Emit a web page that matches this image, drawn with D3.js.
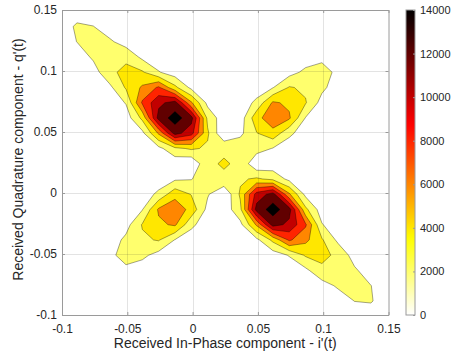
<!DOCTYPE html>
<html><head><meta charset="utf-8">
<script src="https://cdn.jsdelivr.net/npm/d3@7"></script>
<style>
body{margin:0;background:#fff}
text{font-family:"Liberation Sans",Arial,Helvetica,sans-serif;fill:#262626}
</style>
</head><body>
<svg id="chart" width="452" height="356"></svg>
<script>
// grid coordinates (bin centres)
const xGrid = [-0.101,-0.0885,-0.076,-0.0635,-0.051,-0.0385,-0.026,-0.0135,-0.001,0.0115,0.024,0.0365,0.049,0.0615,0.074,0.0865,0.099,0.1115,0.124,0.1365,0.149];
const yGrid = [0.149,0.1365,0.124,0.1115,0.099,0.0865,0.074,0.0615,0.049,0.0365,0.024,0.0115,-0.001,-0.0135,-0.026,-0.0385,-0.051,-0.0635,-0.076,-0.0885,-0.101];
// estimated counts, one row per yGrid value (top row first)
const density = [
[1700,1520,731,280,52,0,0,0,0,0,0,0,0,0,0,0,0,0,0,0,0],
[1520,2150,2040,884,319,66,0,0,0,0,0,0,0,0,0,30,110,170,160,0,0],
[731,2040,2600,2320,1122,429,90,0,0,0,0,0,0,0,52,226,510,800,500,160,0],
[280,884,2320,3300,3500,1530,583,126,0,0,0,0,0,73,341,884,1640,1500,800,170,0],
[52,319,1122,3500,4600,4240,2142,935,220,0,0,0,112,572,1241,2480,2600,1640,510,110,0],
[0,66,429,1530,4240,6300,8300,4500,1474,292,0,148,770,1904,4160,3650,2480,884,226,30,0],
[0,0,90,583,2142,8300,11500,12800,6300,1430,200,682,2516,6300,5600,4160,1241,341,52,0,0],
[0,0,0,126,935,4500,12800,14900,12800,3500,770,900,5300,7400,6300,1904,572,73,0,0,0],
[0,0,0,0,220,1474,6300,12800,10800,4300,200,1540,3900,5300,2516,770,112,0,0,0,0],
[0,0,0,0,0,292,1430,3500,4300,3700,3660,3300,2880,1900,682,148,0,0,0,0,0],
[0,0,0,0,0,0,200,700,200,3660,4200,3660,300,700,200,0,0,0,0,0,0],
[0,0,0,0,0,148,682,1700,1900,3300,3660,3700,4300,3500,1430,292,0,0,0,0,0],
[0,0,0,0,112,770,2516,5300,3900,2200,250,4300,10800,12800,6300,1474,220,0,0,0,0],
[0,0,0,73,572,1904,6300,7400,5300,1394,715,3500,12800,14900,12800,4500,935,126,0,0,0],
[0,0,52,341,1241,4160,5600,6300,2516,682,200,1430,6300,12800,11500,8300,2142,583,90,0,0],
[0,30,226,884,2480,3650,4160,1904,770,148,0,292,1474,4500,8300,6500,4240,1530,429,66,0],
[0,110,510,1640,2600,2480,1241,572,112,0,0,0,220,935,2142,4240,4600,3500,1122,319,52],
[0,170,800,1500,1640,884,341,73,0,0,0,0,0,126,583,1530,3500,3300,2320,884,280],
[0,160,500,800,510,226,52,0,0,0,0,0,0,0,90,429,1122,2320,2600,2040,714],
[0,0,160,170,110,30,0,0,0,0,0,0,0,0,0,66,319,884,2040,2100,1360],
[0,0,0,0,0,0,0,0,0,0,0,0,0,0,0,0,52,280,714,1360,1300]
];
const levels = [2000,4000,6000,8000,10000,12000,14000];
const xTicks = [-0.1,-0.05,0,0.05,0.1,0.15];
const yTicks = [-0.1,-0.05,0,0.05,0.1,0.15];
const cbTicks = [0,2000,4000,6000,8000,10000,12000,14000];
const xLabel = "Received In-Phase component - i'(t)";
const yLabel = "Received Quadrature component - q'(t)";

const svg = d3.select("#chart");
const L = 62, R = 388.5, T = 10, B = 315;
const x = d3.scaleLinear().domain([-0.1,0.15]).range([L,R]);
const y = d3.scaleLinear().domain([-0.1,0.15]).range([B,T]);
const cmax = 14000;
function hotFlip(v){
  const s = 1 - v/cmax;
  const r = Math.min(1, s/0.375);
  const g = Math.max(0, Math.min(1,(s-0.375)/0.375));
  const b = Math.max(0, Math.min(1,(s-0.75)/0.25));
  return d3.rgb(r*255,g*255,b*255).formatHex();
}

svg.append("defs").append("clipPath").attr("id","clip")
  .append("rect").attr("x",L).attr("y",T).attr("width",R-L).attr("height",B-T);

// contours
const nx = xGrid.length, ny = yGrid.length;
const values = density.flat();
const ix = d3.scaleLinear().domain([0,nx-1]).range([xGrid[0],xGrid[nx-1]]);
const iy = d3.scaleLinear().domain([0,ny-1]).range([yGrid[0],yGrid[ny-1]]);
const proj = d3.geoTransform({point:function(px,py){ this.stream.point(x(ix(px-0.5)), y(iy(py-0.5))); }});
const path = d3.geoPath(proj);
const contours = d3.contours().size([nx,ny]).thresholds(levels)(values);

const g = svg.append("g").attr("clip-path","url(#clip)");
g.selectAll("path.c").data(contours).join("path")
  .attr("class","c")
  .attr("d",path)
  .attr("fill",d=>hotFlip(d.value))
  .attr("stroke","#000").attr("stroke-opacity",0.6).attr("stroke-width",0.6)
  .attr("stroke-linejoin","round");

// grid lines
const grid = svg.append("g").attr("stroke","#262626").attr("stroke-opacity",0.13).attr("stroke-width",1);
xTicks.slice(1,-1).forEach(v=>grid.append("line").attr("x1",Math.round(x(v))+0.5).attr("x2",Math.round(x(v))+0.5).attr("y1",T).attr("y2",B));
yTicks.slice(1,-1).forEach(v=>grid.append("line").attr("y1",Math.round(y(v))+0.5).attr("y2",Math.round(y(v))+0.5).attr("x1",L).attr("x2",R));

// axes
const fmt = d=>String(d);
const ax = svg.append("g").attr("transform",`translate(0,${B})`)
  .call(d3.axisBottom(x).tickValues(xTicks).tickFormat(fmt).tickSizeInner(-3).tickSizeOuter(0).tickPadding(9));
const ay = svg.append("g").attr("transform",`translate(${L},0)`)
  .call(d3.axisLeft(y).tickValues(yTicks).tickFormat(fmt).tickSizeInner(-3).tickSizeOuter(0).tickPadding(5));
const axT = svg.append("g").attr("transform",`translate(0,${T})`)
  .call(d3.axisTop(x).tickValues(xTicks).tickFormat("").tickSizeInner(-3).tickSizeOuter(0));
const ayR = svg.append("g").attr("transform",`translate(${R},0)`)
  .call(d3.axisRight(y).tickValues(yTicks).tickFormat("").tickSizeInner(-3).tickSizeOuter(0));
[ax,ay,axT,ayR].forEach(a=>{
  a.select(".domain").attr("stroke","#9a9a9a");
  a.selectAll(".tick line").attr("stroke","#9a9a9a");
  a.selectAll("text").attr("font-size",12).attr("fill","#262626").style("font-family",'"Liberation Sans",Arial,sans-serif');
});

svg.append("text").attr("x",(L+R)/2).attr("y",348).attr("text-anchor","middle")
  .attr("font-size",14).text(xLabel);
svg.append("text").attr("transform",`translate(23,${(T+B)/2 - 3}) rotate(-90)`).attr("text-anchor","middle")
  .attr("font-size",14).text(yLabel);

// colorbar
const cbX = 406, cbW = 9;
const cy = d3.scaleLinear().domain([0,cmax]).range([B,T]);
const grad = svg.select("defs").append("linearGradient").attr("id","cbg")
  .attr("x1",0).attr("y1",1).attr("x2",0).attr("y2",0);
d3.range(0,1.0001,0.02).forEach(t=>grad.append("stop").attr("offset",t).attr("stop-color",hotFlip(t*cmax)));
svg.append("rect").attr("x",cbX).attr("y",T).attr("width",cbW).attr("height",B-T)
  .attr("fill","url(#cbg)").attr("stroke","#9a9a9a").attr("stroke-width",1);
const cb = svg.append("g").attr("transform",`translate(${cbX+cbW},0)`)
  .call(d3.axisRight(cy).tickValues(cbTicks).tickFormat(fmt).tickSizeInner(-2).tickSizeOuter(0).tickPadding(5));
cb.select(".domain").remove();
cb.selectAll(".tick line").attr("stroke","#9a9a9a");
cb.selectAll("text").attr("font-size",11).attr("fill","#262626").style("font-family",'"Liberation Sans",Arial,sans-serif');
</script>
</body></html>
